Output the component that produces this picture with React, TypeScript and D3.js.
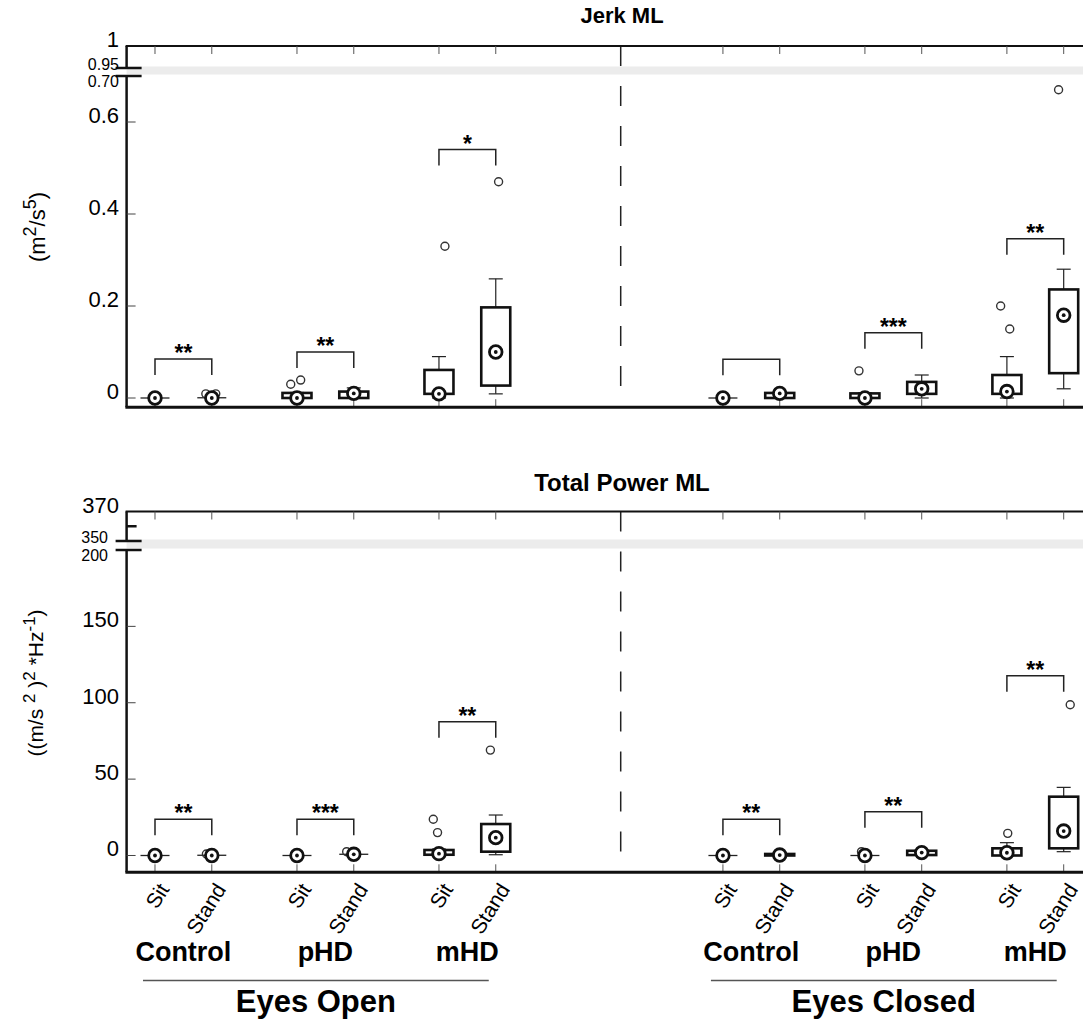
import React from 'react';
import * as d3 from 'd3';

// ---- data ----
const positions = [0, 2, 5, 7, 10, 12, 20, 22, 25, 27, 30, 32];
const postures = ['Sit', 'Stand', 'Sit', 'Stand', 'Sit', 'Stand', 'Sit', 'Stand', 'Sit', 'Stand', 'Sit', 'Stand'];
const groups = ['Control', 'pHD', 'mHD', 'Control', 'pHD', 'mHD'];
const conditions = ['Eyes Open', 'Eyes Closed'];

// Jerk ML (m^2/s^5)
const jerkLo = [0, 0, 0, 0, 0, 0.009, 0, 0, 0, 0, 0, 0.02];
const jerkQ1 = [0, 0, 0, 0, 0.009, 0.027, 0, 0, 0, 0.009, 0.009, 0.054];
const jerkMed = [0, 0, 0, 0.01, 0.009, 0.1, 0, 0.01, 0, 0.02, 0.014, 0.18];
const jerkQ3 = [0, 0.001, 0.011, 0.014, 0.061, 0.197, 0, 0.011, 0.01, 0.035, 0.05, 0.236];
const jerkHi = [0, 0.002, 0.012, 0.022, 0.09, 0.259, 0, 0.013, 0.011, 0.05, 0.09, 0.28];
const jerkOutliers = [[], [0.009, 0.009], [0.03, 0.039], [], [0.33], [0.47], [], [], [0.059], [], [0.2, 0.15], [0.67]];
const jerkJitter = [[], [-0.21, 0.14], [-0.22, 0.13], [], [0.21], [0.1], [], [], [-0.21], [], [-0.22, 0.1], [-0.18]];
const jerkBracket = [0.085, 0.1, 0.54, 0.084, 0.142, 0.346];
const jerkStars = ['**', '**', '*', '', '***', '**'];

// Total Power ML ((m/s^2)^2*Hz^-1)
const powerLo = [0, 0, 0, 0, 0, 0.5, 0, 0, 0, 0, 0, 2.5];
const powerQ1 = [0, 0, 0, 0.6, 0.5, 2.5, 0, 0, 0, 0.3, 0, 4.7];
const powerMed = [0, 0, 0, 0.8, 1.2, 11.7, 0, 0.3, 0, 1.9, 1.8, 16];
const powerQ3 = [0, 0.3, 0, 1.0, 3.6, 20.6, 0, 1.0, 0, 3.1, 4.7, 38.5];
const powerHi = [0, 0.5, 0, 1.5, 4.2, 26.5, 0, 1.2, 0, 3.1, 8.4, 44.6];
const powerOutliers = [[], [1], [], [2.5], [23.7, 15], [69], [], [], [2.5], [], [14.5], [98.7]];
const powerJitter = [[], [-0.19], [], [-0.25], [-0.2, -0.05], [-0.19], [], [], [-0.12], [], [0.03], [0.23]];
const powerBracket = [23.7, 23.7, 87.6, 23.7, 28.7, 117.7];
const powerStars = ['**', '***', '**', '**', '**', '**'];

const jerkTicks = [0, 0.2, 0.4, 0.6];
const powerTicks = [0, 50, 100, 150];

// ---- layout ----
const W = 1083;
const H = 1022;
const FONT = 'Liberation Sans, Arial, Helvetica, sans-serif';
const x = d3.scaleLinear().domain([-1, 32.68]).range([126.6, 1083]);
const dividerPos = 16.4;
const axisX = x(-1);
const boxW = 29;
const capW = 14;

interface PanelSpec {
  title: string;
  titleY: number;
  titleSize: number;
  y: d3.ScaleLinear<number, number>;
  top: number;
  topLabel: string;
  breakLo: number;
  breakHi: number;
  breakLoLabel: string;
  breakHiLabel: string;
  breakLabelX: number;
  extraTicks: number[];
  ticks: number[];
  lo: number[];
  q1: number[];
  med: number[];
  q3: number[];
  hi: number[];
  outliers: number[][];
  jitter: number[][];
  bracket: number[];
  stars: string[];
}

const panels: PanelSpec[] = [
  {
    title: 'Jerk ML',
    titleY: 23,
    titleSize: 22,
    y: d3.scaleLinear().domain([-0.02, 0.7, 0.95, 1]).range([407.2, 76, 68, 46]),
    top: 1,
    topLabel: '1',
    breakLo: 0.7,
    breakHi: 0.95,
    breakLoLabel: '0.70',
    breakHiLabel: '0.95',
    breakLabelX: 119,
    extraTicks: [],
    ticks: jerkTicks,
    lo: jerkLo, q1: jerkQ1, med: jerkMed, q3: jerkQ3, hi: jerkHi,
    outliers: jerkOutliers, jitter: jerkJitter,
    bracket: jerkBracket, stars: jerkStars,
  },
  {
    title: 'Total Power ML',
    titleY: 491,
    titleSize: 24,
    y: d3.scaleLinear().domain([-11, 200, 350, 370]).range([872.3, 550, 541, 511.5]),
    top: 370,
    topLabel: '370',
    breakLo: 200,
    breakHi: 350,
    breakLoLabel: '200',
    breakHiLabel: '350',
    breakLabelX: 108,
    extraTicks: [360],
    ticks: powerTicks,
    lo: powerLo, q1: powerQ1, med: powerMed, q3: powerQ3, hi: powerHi,
    outliers: powerOutliers, jitter: powerJitter,
    bracket: powerBracket, stars: powerStars,
  },
];

const Panel: React.FC<{ p: PanelSpec }> = ({ p }) => {
  const y = p.y;
  const yTop = y(p.top);
  const yBottom = y(y.domain()[0]);
  const yHi = y(p.breakHi);
  const yLo = y(p.breakLo);
  return (
    <g>
      <text x={622} y={p.titleY} textAnchor="middle" fontFamily={FONT} fontWeight="bold" fontSize={p.titleSize}>
        {p.title}
      </text>
      {/* break band */}
      <rect x={axisX} y={yHi - 1.5} width={W - axisX} height={yLo - yHi} fill="#ececec" />
      {/* divider */}
      <line x1={x(dividerPos)} x2={x(dividerPos)} y1={yTop} y2={yBottom} stroke="#222" strokeWidth={1.5} strokeDasharray="20 20" />
      {/* frame top + ticks */}
      <line x1={axisX - 1} x2={W} y1={yTop} y2={yTop} stroke="#111" strokeWidth={2} />
      {positions.map((pos, i) => (
        <line key={'tt' + i} x1={x(pos)} x2={x(pos)} y1={yTop} y2={yTop + 8} stroke="#555" strokeWidth={1} />
      ))}
      {/* bottom axis + ticks */}
      {positions.map((pos, i) => (
        <line key={'bt' + i} x1={x(pos)} x2={x(pos)} y1={yBottom} y2={yBottom - 8} stroke="#555" strokeWidth={1} />
      ))}
      <line x1={axisX - 1.2} x2={W} y1={yBottom} y2={yBottom} stroke="#111" strokeWidth={3} />
      {/* left axis with break */}
      <line x1={axisX} x2={axisX} y1={yTop} y2={yHi} stroke="#111" strokeWidth={2.5} />
      <line x1={axisX} x2={axisX} y1={yLo} y2={yBottom} stroke="#111" strokeWidth={2.5} />
      <line x1={axisX - 11} x2={axisX + 15} y1={yHi} y2={yHi} stroke="#111" strokeWidth={2.5} />
      <line x1={axisX - 11} x2={axisX + 15} y1={yLo} y2={yLo} stroke="#111" strokeWidth={2.5} />
      {p.extraTicks.map(v => (
        <line key={'et' + v} x1={axisX} x2={axisX + 10} y1={y(v)} y2={y(v)} stroke="#111" strokeWidth={2.5} />
      ))}
      {p.ticks.map(v => (
        <g key={'yt' + v}>
          <line x1={axisX} x2={axisX + 9} y1={y(v)} y2={y(v)} stroke="#444" strokeWidth={1} />
          <text x={119} y={y(v) + 1} textAnchor="end" fontFamily={FONT} fontSize={22}>{String(v)}</text>
        </g>
      ))}
      <text x={119} y={yTop + 1} textAnchor="end" fontFamily={FONT} fontSize={22}>{p.topLabel}</text>
      <text x={p.breakLabelX} y={yHi + 2} textAnchor="end" fontFamily={FONT} fontSize={16}>{p.breakHiLabel}</text>
      <text x={p.breakLabelX} y={yLo + 11} textAnchor="end" fontFamily={FONT} fontSize={16}>{p.breakLoLabel}</text>

      {/* boxes */}
      {positions.map((pos, i) => {
        const cx = x(pos);
        const y1 = y(p.q1[i]);
        const y3 = y(p.q3[i]);
        const flat = Math.abs(y1 - y3) < 1.5;
        return (
          <g key={'box' + i}>
            {p.hi[i] > p.q3[i] && (
              <g>
                <line x1={cx} x2={cx} y1={y3} y2={y(p.hi[i])} stroke="#222" strokeWidth={1.2} />
                <line x1={cx - capW / 2} x2={cx + capW / 2} y1={y(p.hi[i])} y2={y(p.hi[i])} stroke="#222" strokeWidth={1.2} />
              </g>
            )}
            {p.lo[i] < p.q1[i] && (
              <g>
                <line x1={cx} x2={cx} y1={y1} y2={y(p.lo[i])} stroke="#222" strokeWidth={1.2} />
                <line x1={cx - capW / 2} x2={cx + capW / 2} y1={y(p.lo[i])} y2={y(p.lo[i])} stroke="#222" strokeWidth={1.2} />
              </g>
            )}
            {flat ? (
              <line x1={cx - boxW / 2} x2={cx + boxW / 2} y1={(y1 + y3) / 2} y2={(y1 + y3) / 2} stroke="#222" strokeWidth={1.3} />
            ) : (
              <rect x={cx - boxW / 2} y={y3} width={boxW} height={y1 - y3} fill="white" stroke="#111" strokeWidth={2.6} />
            )}
            {p.outliers[i].map((v, k) => (
              <circle key={k} cx={x(pos + p.jitter[i][k])} cy={y(v)} r={4} fill="none" stroke="#333" strokeWidth={1.4} />
            ))}
            <circle cx={cx} cy={y(p.med[i])} r={6.3} fill="white" stroke="#111" strokeWidth={2.8} />
            <circle cx={cx} cy={y(p.med[i])} r={1.9} fill="#111" />
          </g>
        );
      })}

      {/* significance brackets */}
      {p.bracket.map((v, g) => {
        const xa = x(positions[2 * g]);
        const xb = x(positions[2 * g + 1]);
        const yb = y(v);
        return (
          <g key={'br' + g}>
            <path d={`M${xa},${yb + 16}V${yb}H${xb}V${yb + 16}`} fill="none" stroke="#222" strokeWidth={1.5} />
            {p.stars[g] && (
              <text x={(xa + xb) / 2} y={yb + 2} textAnchor="middle" fontFamily={FONT} fontWeight="bold" fontSize={23}>
                {p.stars[g]}
              </text>
            )}
          </g>
        );
      })}
    </g>
  );
};

const App: React.FC = () => {
  const yLabelBase = 872.3;
  return (
    <svg width={W} height={H} viewBox={`0 0 ${W} ${H}`} style={{ position: 'absolute', left: 0, top: 0, background: 'white' }}>
      {panels.map((p, i) => <Panel key={i} p={p} />)}

      {/* y-axis unit labels */}
      <text transform="translate(45,227) rotate(-90)" textAnchor="middle" fontFamily={FONT} fontSize={22}>
        <tspan>(m</tspan>
        <tspan dy={-9} fontSize={18}>2</tspan>
        <tspan dy={9}>/s</tspan>
        <tspan dy={-9} fontSize={18}>5</tspan>
        <tspan dy={9}>)</tspan>
      </text>
      <text transform="translate(43,683) rotate(-90)" textAnchor="middle" fontFamily={FONT} fontSize={21}>
        <tspan>((m/s </tspan>
        <tspan dy={-8} fontSize={17}>2</tspan>
        <tspan dy={8}> )</tspan>
        <tspan dy={-8} fontSize={17}>2</tspan>
        <tspan dy={8}> *Hz</tspan>
        <tspan dy={-8} fontSize={17}>-1</tspan>
        <tspan dy={8}>)</tspan>
      </text>

      {/* x tick labels */}
      {positions.map((pos, i) => (
        <text key={'xl' + i} transform={`translate(${x(pos) + 15},${yLabelBase + 17}) rotate(-58)`} textAnchor="end" fontFamily={FONT} fontSize={21}>
          {postures[i]}
        </text>
      ))}
      {groups.map((g, k) => (
        <text key={'gl' + k} x={(x(positions[2 * k]) + x(positions[2 * k + 1])) / 2} y={961} textAnchor="middle" fontFamily={FONT} fontWeight="bold" fontSize={27}>
          {g}
        </text>
      ))}
      {conditions.map((c, k) => {
        const xa = x(positions[6 * k]) - 12;
        const xb = x(positions[6 * k + 5]) - 7;
        return (
          <g key={'cl' + k}>
            <line x1={xa} x2={xb} y1={980.5} y2={980.5} stroke="#555" strokeWidth={1.6} />
            <text x={(xa + xb) / 2} y={1012} textAnchor="middle" fontFamily={FONT} fontWeight="bold" fontSize={31}>
              {c}
            </text>
          </g>
        );
      })}
    </svg>
  );
};

export default App;
